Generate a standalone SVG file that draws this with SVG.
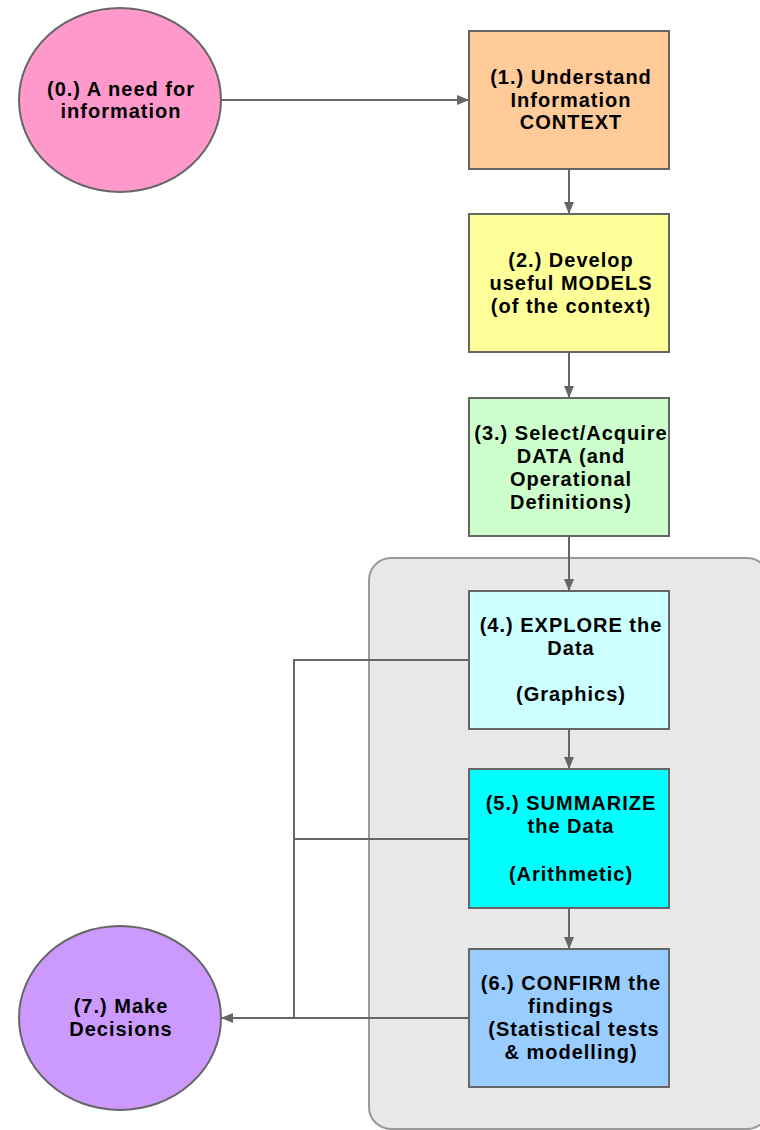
<svg xmlns="http://www.w3.org/2000/svg" width="760" height="1130" viewBox="0 0 760 1130">
<style>
.n{stroke:#666;stroke-width:2}
.t{font-family:"Liberation Sans",Arial,sans-serif;font-weight:bold;font-size:20px;letter-spacing:1px;fill:#000;text-anchor:middle}
.c{fill:none;stroke:#666;stroke-width:2}
</style>
<defs>
<marker id="ah" viewBox="0 0 12 10" refX="12" refY="5" markerWidth="12" markerHeight="10" markerUnits="userSpaceOnUse" orient="auto">
<path d="M0,0 L12,5 L0,10 Z" fill="#666"/>
</marker>
</defs>
<rect id="group" x="369" y="558" width="400" height="571" rx="22" fill="#e8e8e8" stroke="#999" stroke-width="2"/>
<g id="connectors">
<path class="c" d="M220,100 H469" marker-end="url(#ah)"/>
<path class="c" d="M569,169 V214" marker-end="url(#ah)"/>
<path class="c" d="M569,352 V398" marker-end="url(#ah)"/>
<path class="c" d="M569,536 V591" marker-end="url(#ah)"/>
<path class="c" d="M569,729 V769" marker-end="url(#ah)"/>
<path class="c" d="M569,908 V949" marker-end="url(#ah)"/>
<path class="c" d="M469,660 H294 V1018"/>
<path class="c" d="M469,839 H294"/>
<path class="c" d="M469,1018 H221" marker-end="url(#ah)"/>
</g>
<g id="n0">
<ellipse class="n" cx="120" cy="100" rx="101" ry="92" fill="#ff99cc"/>
<text class="t" x="121" y="96">(0.) A need for</text>
<text class="t" x="121" y="118">information</text>
</g>
<g id="n1">
<rect class="n" x="469" y="31" width="200" height="138" fill="#ffcc99"/>
<text class="t" x="571" y="84">(1.) Understand</text>
<text class="t" x="571" y="107">Information</text>
<text class="t" x="571" y="129">CONTEXT</text>
</g>
<g id="n2">
<rect class="n" x="469" y="214" width="200" height="138" fill="#ffff99"/>
<text class="t" x="571" y="267">(2.) Develop</text>
<text class="t" x="571" y="290">useful MODELS</text>
<text class="t" x="571" y="313">(of the context)</text>
</g>
<g id="n3">
<rect class="n" x="469" y="398" width="200" height="138" fill="#ccffcc"/>
<text class="t" x="571" y="440">(3.) Select/Acquire</text>
<text class="t" x="571" y="463">DATA (and</text>
<text class="t" x="571" y="486">Operational</text>
<text class="t" x="571" y="509">Definitions)</text>
</g>
<g id="n4">
<rect class="n" x="469" y="591" width="200" height="138" fill="#ccffff"/>
<text class="t" x="571" y="632">(4.) EXPLORE the</text>
<text class="t" x="571" y="655">Data</text>
<text class="t" x="571" y="701">(Graphics)</text>
</g>
<g id="n5">
<rect class="n" x="469" y="769" width="200" height="139" fill="#00ffff"/>
<text class="t" x="571" y="810">(5.) SUMMARIZE</text>
<text class="t" x="571" y="833">the Data</text>
<text class="t" x="571" y="881">(Arithmetic)</text>
</g>
<g id="n6">
<rect class="n" x="469" y="949" width="200" height="138" fill="#99ccff"/>
<text class="t" x="571" y="990">(6.) CONFIRM the</text>
<text class="t" x="571" y="1013">findings</text>
<text class="t" x="574" y="1036">(Statistical tests</text>
<text class="t" x="571" y="1059">&amp; modelling)</text>
</g>
<g id="n7">
<ellipse class="n" cx="120" cy="1018" rx="101" ry="92" fill="#cc99ff"/>
<text class="t" x="121" y="1013">(7.) Make</text>
<text class="t" x="121" y="1036">Decisions</text>
</g>
</svg>
